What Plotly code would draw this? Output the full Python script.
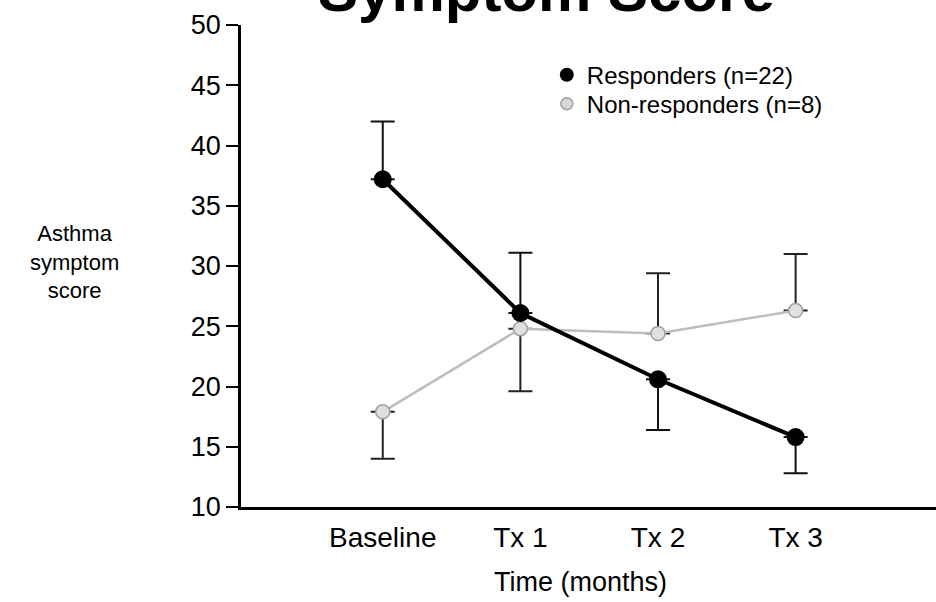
import plotly.graph_objects as go

categories = ["Baseline", "Tx 1", "Tx 2", "Tx 3"]
responders = [37.2, 26.1, 20.6, 15.8]
resp_err_plus = [4.8, 5.0, 0.0, 0.0]
resp_err_minus = [0.0, 0.0, 4.2, 3.0]
nonresponders = [17.9, 24.8, 24.4, 26.3]
non_err_plus = [0.0, 0.0, 5.0, 4.7]
non_err_minus = [3.9, 5.2, 0.0, 0.0]
y_ticks = [10, 15, 20, 25, 30, 35, 40, 45, 50]

FONT = "Liberation Sans, Arial, sans-serif"

fig = go.Figure()

fig.add_trace(go.Scatter(
    x=categories, y=nonresponders, mode="lines+markers", showlegend=False,
    line=dict(color="#bdbdbd", width=2.5),
    marker=dict(color="#e0e0e0", size=14, line=dict(color="#a0a0a0", width=1.5)),
    error_y=dict(type="data", symmetric=False, array=non_err_plus, arrayminus=non_err_minus,
                 color="#222222", thickness=2, width=12),
))
fig.add_trace(go.Scatter(
    x=categories, y=responders, mode="lines+markers", showlegend=False,
    line=dict(color="black", width=4),
    marker=dict(color="black", size=18),
    error_y=dict(type="data", symmetric=False, array=resp_err_plus, arrayminus=resp_err_minus,
                 color="#111111", thickness=2, width=12),
))
# legend entries (markers only), one legend box per row for exact spacing
fig.add_trace(go.Scatter(x=[None], y=[None], mode="markers", name="Responders (n=22)",
                         marker=dict(color="black", size=14), legend="legend"))
fig.add_trace(go.Scatter(x=[None], y=[None], mode="markers", name="Non-responders (n=8)",
                         marker=dict(color="#d8d8d8", size=12, line=dict(color="#a0a0a0", width=1.5)),
                         legend="legend2"))

fig.update_layout(
    width=936, height=602,
    margin=dict(l=241, r=0, t=25, b=95),
    plot_bgcolor="white", paper_bgcolor="white",
    font=dict(family=FONT, color="black", size=24),
    legend=dict(x=0.44, y=0.896, xanchor="left", yanchor="middle",
                font=dict(size=24), bgcolor="rgba(0,0,0,0)", itemwidth=30),
    legend2=dict(x=0.44, y=0.836, xanchor="left", yanchor="middle",
                 font=dict(size=24), bgcolor="rgba(0,0,0,0)", itemwidth=30),
    xaxis=dict(type="category", range=[-1.03, 4.02], showline=True, linecolor="black",
               linewidth=3, ticks="", showgrid=False, zeroline=False,
               tickfont=dict(size=28), ticklabelstandoff=3),
    yaxis=dict(range=[10, 50], tickvals=y_ticks, showline=True, linecolor="black",
               linewidth=2.5, ticks="outside", ticklen=12, tickwidth=2, tickcolor="black",
               showgrid=False, zeroline=False, tickfont=dict(size=27)),
    annotations=[
        dict(text="<b>Symptom Score</b>", x=0.44, y=1.072, xref="paper", yref="paper",
             xanchor="center", yanchor="middle", showarrow=False, font=dict(size=60)),
        dict(text="Asthma<br>symptom<br>score", x=-0.239, y=0.508, xref="paper", yref="paper",
             xanchor="center", yanchor="middle", showarrow=False, font=dict(size=22), align="center"),
        dict(text="Time (months)", x=0.488, y=-0.156, xref="paper", yref="paper",
             xanchor="center", yanchor="middle", showarrow=False, font=dict(size=27)),
    ],
)

fig.write_html("out.html")
